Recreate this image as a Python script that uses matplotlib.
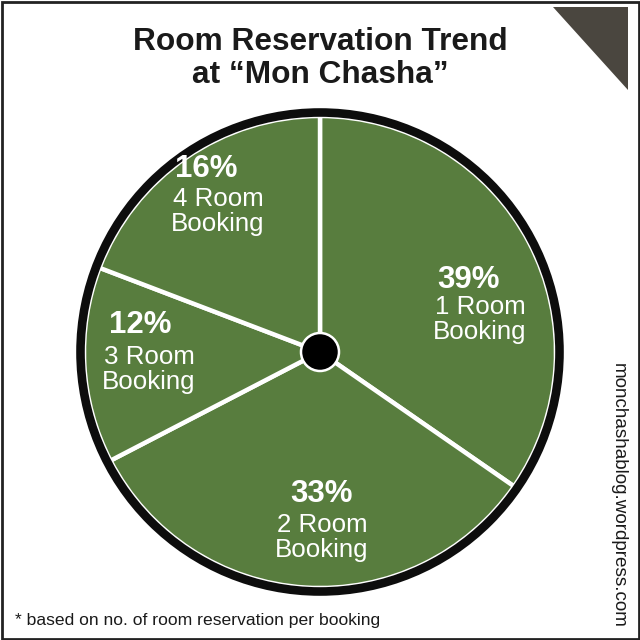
import matplotlib.pyplot as plt
from matplotlib.patches import Circle, Polygon, Rectangle

plt.rcParams['font.family'] = ['Liberation Sans', 'DejaVu Sans']

# Data
categories = ["1 Room", "2 Room", "3 Room", "4 Room"]
pct_labels = [39, 33, 12, 16]               # printed percentages
slice_angles = [124.7, 117.9, 48.3, 69.1]   # slice sizes as drawn (degrees)

GREEN = "#587d3e"
W, H = 640, 640

fig = plt.figure(figsize=(6.4, 6.4), dpi=100)
ax = fig.add_axes([0, 0, 1, 1])

# pixel -> data (y up)
def py(y):
    return H - y

cx, cy = 320, py(352)

ax.pie(slice_angles, colors=[GREEN] * len(slice_angles), startangle=90,
       counterclock=False, center=(cx, cy), radius=236,
       wedgeprops=dict(edgecolor="white", linewidth=3.2))

# thick black rim
ax.add_patch(Circle((cx, cy), 239.5, fill=False, edgecolor="#0d0d0d", linewidth=6.2, zorder=3))
# centre hub
ax.add_patch(Circle((cx, cy), 19, facecolor="black", edgecolor="white", linewidth=1.8, zorder=4))

# labels: (pct x, pct y, sub x, sub y) in pixels
label_pos = [(469, 280, 480, 307),
             (322, 494, 322, 525),
             (140, 325, 149, 357),
             (206, 169, 218, 199)]
for cat, pct, (px_, py_, sx, sy) in zip(categories, pct_labels, label_pos):
    ax.text(px_, py(py_), f"{pct}%", ha="center", va="center",
            fontsize=22.5, fontweight="bold", color="white", zorder=5)
    ax.text(sx, py(sy), cat, ha="center", va="center",
            fontsize=18.6, color="white", zorder=5)
    ax.text(sx, py(sy + 24.5), "Booking", ha="center", va="center",
            fontsize=18.6, color="white", zorder=5)

# title
ax.text(320, py(42), "Room Reservation Trend", ha="center", va="center",
        fontsize=22.8, fontweight="bold", color="#1a1a1a")
ax.text(320, py(75), "at \u201cMon Chasha\u201d", ha="center", va="center",
        fontsize=22.8, fontweight="bold", color="#1a1a1a")

# footnote and side credit
ax.text(15, py(620), "* based on no. of room reservation per booking",
        ha="left", va="center", fontsize=12.6, color="#1a1a1a")
ax.text(618, py(495), "monchashablog.wordpress.com", ha="center", va="center",
        rotation=-90, fontsize=13.6, color="#1a1a1a")

# corner triangle
ax.add_patch(Polygon([(553, py(7)), (628, py(7)), (628, py(90))],
                     closed=True, facecolor="#4a463f", edgecolor="none"))

# frame around the whole picture
ax.add_patch(Rectangle((1.5, 1.5), W - 3, H - 3, fill=False,
                       edgecolor="#222222", linewidth=2))

ax.set_xlim(0, W)
ax.set_ylim(0, H)
ax.set_aspect("equal")
ax.axis("off")

fig.savefig("out.png", dpi=100, facecolor="white")
